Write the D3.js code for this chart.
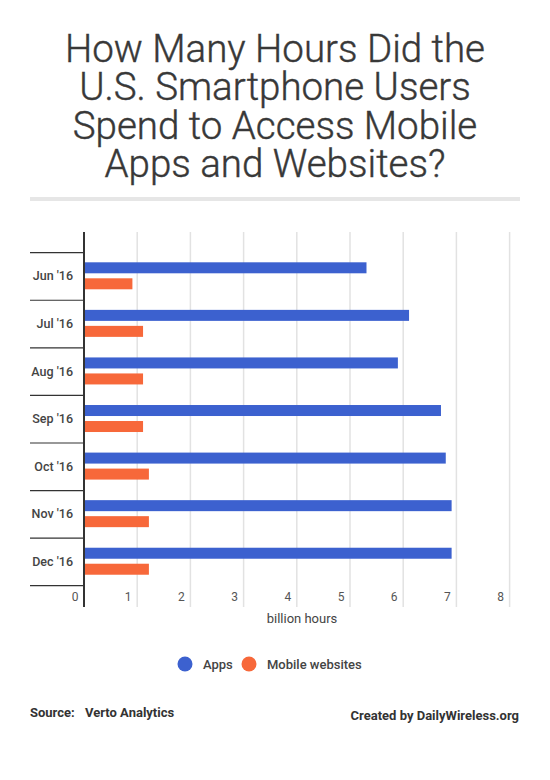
<!DOCTYPE html>
<html>
<head>
<meta charset="utf-8">
<script src="https://cdn.jsdelivr.net/npm/d3@7/dist/d3.min.js"></script>
<style>
  body { margin: 0; background: #fff; }
  svg { display: block; font-family: Roboto, "Noto Sans", sans-serif; }
</style>
</head>
<body>
<div id="chart"></div>
<script>
// data
var months = ["Jun '16", "Jul '16", "Aug '16", "Sep '16", "Oct '16", "Nov '16", "Dec '16"];
var apps = [5.31, 6.11, 5.9, 6.71, 6.8, 6.91, 6.91];
var mobileWebsites = [0.91, 1.11, 1.11, 1.11, 1.22, 1.22, 1.22];
var seriesNames = ["Apps", "Mobile websites"];
var seriesColors = ["#3c61cf", "#f7683a"];
var xTicks = [0, 1, 2, 3, 4, 5, 6, 7, 8];
var titleLines = ["How Many Hours Did the", "U.S. Smartphone Users", "Spend to Access Mobile", "Apps and Websites?"];

var width = 550, height = 780;

var svg = d3.select('#chart')
  .append('svg')
  .attr('width', width)
  .attr('height', height);

// title
svg.append('g').selectAll('text')
  .data(titleLines)
  .enter().append('text')
  .attr('x', 275)
  .attr('y', function (d, i) { return 62 + i * 38.4; })
  .attr('text-anchor', 'middle')
  .attr('font-size', 38.5)
  .attr('font-weight', 300)
  .attr('fill', '#383838')
  .attr('stroke', '#383838')
  .attr('stroke-width', 0.4)
  .text(function (d) { return d; });

svg.append('rect')
  .attr('x', 30).attr('y', 197)
  .attr('width', 490).attr('height', 4)
  .attr('fill', '#e6e6e6');

// scales
var x = d3.scaleLinear().domain([0, 8]).range([84, 509.6]);
var y = d3.scaleBand().domain(months).range([252.7, 585.7]);
var ySub = d3.scaleBand().domain(seriesNames).range([9.6, 36.6]).paddingInner(5 / 16);

var plotTop = 232, plotBottom = 607;

// vertical gridlines
svg.append('g').selectAll('line')
  .data(xTicks.slice(1))
  .enter().append('line')
  .attr('x1', function (d) { return x(d); })
  .attr('x2', function (d) { return x(d); })
  .attr('y1', plotTop).attr('y2', plotBottom)
  .attr('stroke', '#e2e2e2')
  .attr('stroke-width', 1.5);

// x tick labels
svg.append('g').selectAll('text')
  .data(xTicks)
  .enter().append('text')
  .attr('x', function (d) { return x(d) - 9; })
  .attr('y', 601)
  .attr('text-anchor', 'middle')
  .attr('font-size', 12)
  .attr('fill', '#555')
  .text(function (d) { return d; });

svg.append('text')
  .attr('x', 302).attr('y', 623)
  .attr('text-anchor', 'middle')
  .attr('font-size', 13)
  .attr('fill', '#444')
  .text('billion hours');

// bars
var rows = months.map(function (m, i) {
  return { month: m, values: [apps[i], mobileWebsites[i]] };
});

var groups = svg.append('g').selectAll('g')
  .data(rows)
  .enter().append('g')
  .attr('transform', function (d) { return 'translate(0,' + y(d.month) + ')'; });

groups.selectAll('rect')
  .data(function (d) { return d.values; })
  .enter().append('rect')
  .attr('x', x(0))
  .attr('y', function (d, i) { return ySub(seriesNames[i]); })
  .attr('width', function (d) { return x(d) - x(0); })
  .attr('height', ySub.bandwidth())
  .attr('fill', function (d, i) { return seriesColors[i]; });

// y axis: category labels and band separators
var yAxis = d3.axisLeft(y).tickSize(0).tickPadding(11);
var yg = svg.append('g').attr('transform', 'translate(84,0)').call(yAxis);
yg.select('.domain').remove();
yg.selectAll('text')
  .attr('font-family', 'Roboto, sans-serif')
  .attr('font-size', 12.5)
  .attr('font-weight', 500)
  .attr('fill', '#444');

var bounds = months.map(function (m) { return y(m); }).concat([y.range()[1]]);
svg.append('g').selectAll('line')
  .data(bounds)
  .enter().append('line')
  .attr('x1', 30).attr('x2', 83)
  .attr('y1', function (d) { return d; })
  .attr('y2', function (d) { return d; })
  .attr('stroke', '#333')
  .attr('stroke-width', 1.2);

svg.append('line')
  .attr('x1', 84).attr('x2', 84)
  .attr('y1', plotTop).attr('y2', plotBottom)
  .attr('stroke', '#333')
  .attr('stroke-width', 2);

// legend
var legend = svg.append('g').attr('transform', 'translate(0,664)');
var legendX = [185, 249];
legend.selectAll('circle')
  .data(seriesNames)
  .enter().append('circle')
  .attr('cx', function (d, i) { return legendX[i]; })
  .attr('cy', 0)
  .attr('r', 7.5)
  .attr('fill', function (d, i) { return seriesColors[i]; });
legend.selectAll('text')
  .data(seriesNames)
  .enter().append('text')
  .attr('x', function (d, i) { return legendX[i] + 18; })
  .attr('y', 4.5)
  .attr('font-size', 13)
  .attr('font-weight', 500)
  .attr('fill', '#444')
  .text(function (d) { return d; });

// footer
svg.append('text')
  .attr('x', 30).attr('y', 717)
  .attr('font-size', 13).attr('font-weight', 700).attr('fill', '#333')
  .text('Source:');
svg.append('text')
  .attr('x', 85).attr('y', 717)
  .attr('font-size', 13).attr('font-weight', 700).attr('fill', '#333')
  .text('Verto Analytics');
svg.append('text')
  .attr('x', 519).attr('y', 720)
  .attr('text-anchor', 'end')
  .attr('font-size', 13).attr('font-weight', 700).attr('fill', '#333')
  .text('Created by DailyWireless.org');
</script>
</body>
</html>
